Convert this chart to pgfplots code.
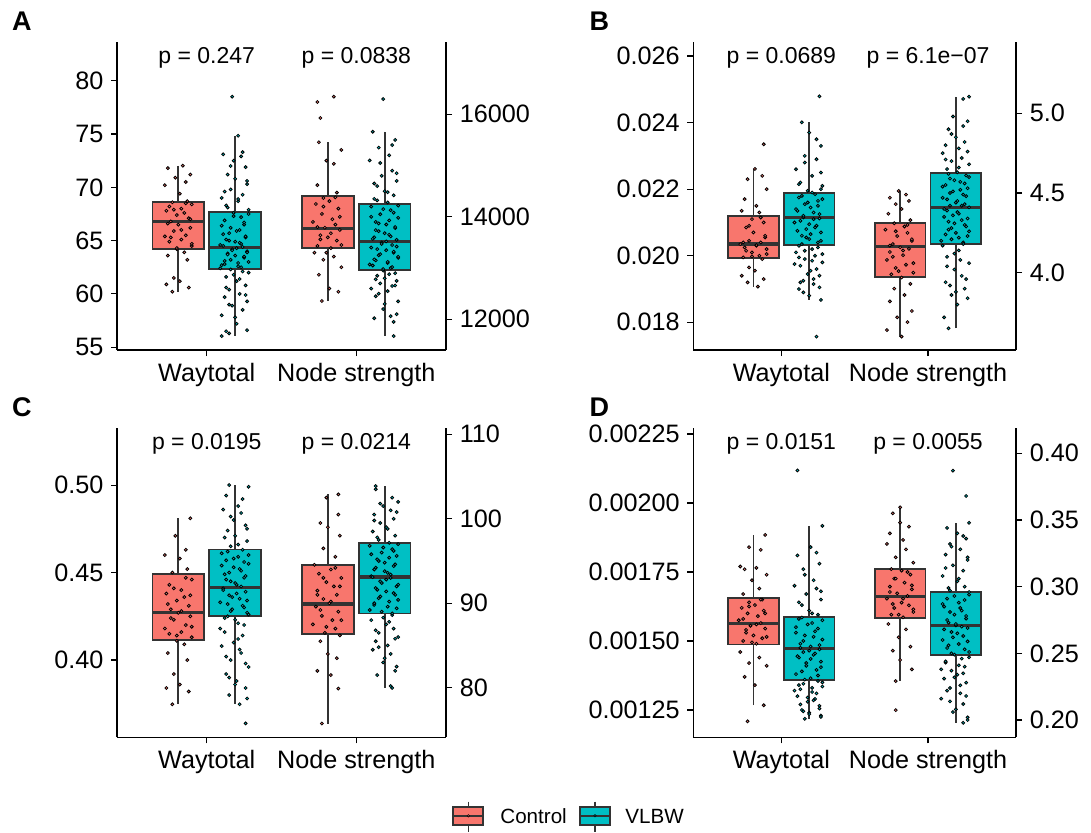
\documentclass[border=0pt]{standalone}
\usepackage{pgfplots}
\pgfplotsset{compat=1.18}
\usepgfplotslibrary{statistics}
\usepackage{pgfplotstable}
\usepackage{fontspec}
\setmainfont{Liberation Sans}
\definecolor{ctrl}{HTML}{F8766D}
\definecolor{vlbw}{HTML}{00BFC4}
\definecolor{gg}{HTML}{333333}

% jittered points: d = horizontal jitter, v = value
\pgfplotstableread[row sep=\\]{d v\\ 0.03 72.03\\ -0.07 71.8\\ 0.08 71.2\\ -0.02 70.9\\ 0.05 70.5\\ -0.09 70.2\\ 0.01 69.4\\ 0.06 68.7\\ -0.04 68.6\\ 0.09 68.4\\ -0.06 68.2\\ 0.02 68.0\\ -0.08 67.8\\ 0.04 67.6\\ -0.01 67.4\\ 0.07 67.1\\ -0.05 66.8\\ 0.00 66.5\\ 0.08 66.2\\ -0.03 65.9\\ 0.05 65.5\\ -0.09 65.4\\ 0.02 65.1\\ -0.06 64.9\\ 0.09 64.5\\ -0.01 64.2\\ 0.04 63.9\\ -0.07 63.6\\ 0.06 63.2\\ -0.03 61.5\\ 0.01 61.2\\ -0.08 60.9\\ 0.07 60.6\\ -0.04 60.21\\ 0.05 68.5\\ -0.03 67.9\\ 0.08 67.0\\ -0.07 66.6\\ 0.02 66.0\\ -0.05 65.3\\ 0.09 64.7\\ -0.01 64.3\\}\tAwc
\pgfplotstableread[row sep=\\]{d v\\ -0.02 78.5\\ 0.02 74.84\\ -0.08 73.1\\ 0.04 72.9\\ -0.01 72.5\\ 0.07 71.9\\ -0.05 71.2\\ 0.00 70.8\\ 0.08 70.3\\ -0.03 69.8\\ 0.05 69.3\\ -0.09 69.0\\ 0.02 68.7\\ -0.06 68.3\\ 0.09 67.9\\ -0.01 67.6\\ 0.04 67.2\\ -0.07 66.9\\ 0.06 66.5\\ -0.03 66.2\\ 0.01 65.9\\ -0.08 65.6\\ 0.07 65.3\\ -0.04 65.0\\ 0.03 64.8\\ -0.10 64.6\\ 0.05 64.4\\ -0.02 64.2\\ 0.08 64.0\\ -0.05 63.8\\ 0.00 63.6\\ 0.06 63.4\\ -0.07 63.1\\ 0.02 62.9\\ -0.09 62.7\\ 0.04 62.5\\ -0.03 62.3\\ 0.09 62.0\\ -0.06 61.6\\ 0.01 61.2\\ 0.07 60.8\\ -0.04 60.4\\ 0.03 60.0\\ -0.07 59.7\\ 0.08 59.3\\ -0.02 58.9\\ 0.05 58.5\\ -0.09 58.0\\ 0.01 57.2\\ -0.06 56.5\\ -0.04 56.3\\ -0.09 56.05\\ 0.05 73.3\\ -0.03 72.0\\ 0.08 70.6\\ -0.07 69.6\\ 0.02 68.9\\ -0.05 68.1\\ 0.09 67.5\\ -0.01 67.3\\ 0.06 66.7\\ -0.09 66.4\\ 0.03 66.0\\ -0.04 65.7\\ 0.07 65.4\\ -0.06 65.1\\ 0.00 64.9\\ 0.04 64.7\\ -0.08 64.5\\ 0.01 64.3\\ -0.02 64.1\\ 0.08 63.9\\ -0.05 63.7\\ 0.06 63.5\\ -0.03 63.2\\ 0.09 63.0\\ -0.07 62.8\\ 0.02 62.6\\ -0.10 62.4\\ 0.05 62.1\\ -0.01 61.8\\ 0.03 61.4\\ -0.06 60.6\\ 0.07 59.9\\ -0.04 59.0\\ 0.00 57.8\\ 0.08 56.6\\}\tAwv
\pgfplotstableread[row sep=\\]{d v\\ 0.04 16344\\ -0.07 16240\\ -0.05 15928\\ -0.06 15454\\ 0.09 15304\\ -0.01 15096\\ 0.04 15034\\ -0.07 14618\\ 0.06 14472\\ -0.03 14368\\ 0.01 14306\\ -0.08 14250\\ 0.07 14160\\ -0.04 14056\\ 0.03 13952\\ -0.10 13900\\ 0.05 13848\\ -0.02 13786\\ 0.08 13744\\ -0.05 13640\\ 0.00 13600\\ 0.06 13536\\ -0.07 13432\\ 0.02 13390\\ -0.09 13300\\ 0.04 13224\\ -0.03 13162\\ 0.09 13016\\ -0.06 12870\\ 0.01 12600\\ 0.07 12538\\ -0.04 12357\\ 0.05 14380\\ -0.03 14200\\ 0.08 14000\\ -0.07 13800\\ 0.02 13680\\ -0.05 13560\\ 0.09 13450\\ -0.01 13300\\}\tAnc
\pgfplotstableread[row sep=\\]{d v\\ -0.01 16298\\ -0.08 15660\\ 0.07 15500\\ -0.04 15350\\ 0.03 15200\\ -0.10 15100\\ 0.05 14900\\ -0.02 14800\\ 0.08 14700\\ -0.05 14600\\ 0.00 14500\\ 0.06 14420\\ -0.07 14350\\ 0.02 14280\\ -0.09 14200\\ 0.04 14130\\ -0.03 14050\\ 0.09 13980\\ -0.06 13900\\ 0.01 13850\\ 0.07 13780\\ -0.04 13720\\ 0.03 13650\\ -0.07 13600\\ 0.08 13550\\ -0.02 13500\\ 0.05 13450\\ -0.09 13400\\ 0.01 13350\\ 0.06 13300\\ -0.04 13250\\ 0.09 13200\\ -0.06 13150\\ 0.02 13100\\ -0.08 13050\\ 0.04 13000\\ -0.01 12950\\ 0.07 12900\\ -0.05 12850\\ 0.00 12800\\ 0.08 12750\\ -0.03 12700\\ 0.05 12650\\ -0.09 12600\\ 0.02 12550\\ -0.06 12450\\ 0.09 12350\\ -0.01 12200\\ 0.04 12060\\ -0.07 12020\\ 0.06 11950\\ 0.06 11674\\ 0.05 15400\\ -0.03 15050\\ 0.08 14850\\ -0.07 14650\\ 0.02 14480\\ -0.05 14320\\ 0.09 14220\\ -0.01 14150\\ 0.06 14080\\ -0.09 14000\\ 0.03 13930\\ -0.04 13870\\ 0.07 13800\\ -0.06 13740\\ 0.00 13680\\ 0.04 13620\\ -0.08 13570\\ 0.01 13520\\ -0.02 13470\\ 0.08 13420\\ -0.05 13370\\ 0.06 13320\\ -0.03 13270\\ 0.09 13220\\ -0.07 13170\\ 0.02 13120\\ -0.10 13070\\ 0.05 13020\\ -0.01 12980\\ 0.03 12880\\ -0.06 12780\\ 0.07 12660\\ -0.04 12500\\ 0.00 12300\\ 0.08 12100\\}\tAnv

\pgfplotstableread[row sep=\\]{d v\\ 0.07 0.02335\\ 0.01 0.022607\\ 0.06 0.02240\\ -0.04 0.02230\\ 0.09 0.02200\\ -0.06 0.02170\\ 0.02 0.02150\\ -0.08 0.02135\\ 0.04 0.02130\\ -0.01 0.02110\\ 0.07 0.02100\\ -0.05 0.02085\\ 0.00 0.02070\\ 0.08 0.02055\\ -0.03 0.02045\\ 0.05 0.02040\\ -0.09 0.02035\\ 0.02 0.02030\\ -0.06 0.02025\\ 0.09 0.02020\\ -0.01 0.02010\\ 0.04 0.02000\\ -0.07 0.01995\\ 0.06 0.01990\\ -0.03 0.01965\\ 0.01 0.01955\\ -0.08 0.01940\\ 0.07 0.01930\\ -0.04 0.01920\\ 0.03 0.019072\\ 0.05 0.02115\\ -0.03 0.02090\\ 0.08 0.02060\\ -0.07 0.02040\\ 0.02 0.02032\\ -0.05 0.02015\\ 0.09 0.02005\\ -0.01 0.01998\\}\tBwc
\pgfplotstableread[row sep=\\]{d v\\ 0.07 0.02479\\ -0.05 0.024009\\ 0.00 0.02370\\ 0.08 0.02330\\ -0.03 0.02300\\ 0.05 0.02290\\ -0.09 0.02260\\ 0.02 0.02240\\ -0.06 0.02220\\ 0.09 0.02210\\ -0.01 0.02195\\ 0.04 0.02185\\ -0.07 0.02175\\ 0.06 0.02165\\ -0.03 0.02155\\ 0.01 0.02145\\ -0.08 0.02135\\ 0.07 0.02125\\ -0.04 0.02115\\ 0.03 0.02110\\ -0.10 0.02100\\ 0.05 0.02090\\ -0.02 0.02080\\ 0.08 0.02070\\ -0.05 0.02060\\ 0.00 0.02050\\ 0.06 0.02040\\ -0.07 0.02030\\ 0.02 0.02020\\ -0.09 0.02010\\ 0.04 0.02000\\ -0.03 0.01990\\ 0.09 0.01980\\ -0.06 0.01970\\ 0.01 0.01955\\ 0.07 0.01940\\ -0.04 0.01925\\ 0.03 0.01915\\ -0.07 0.01900\\ 0.08 0.018673\\ 0.05 0.01757\\ 0.05 0.02350\\ -0.03 0.02280\\ 0.08 0.02250\\ -0.07 0.02215\\ 0.02 0.02190\\ -0.05 0.02180\\ 0.09 0.02170\\ -0.01 0.02160\\ 0.06 0.02150\\ -0.09 0.02140\\ 0.03 0.02130\\ -0.04 0.02120\\ 0.07 0.02112\\ -0.06 0.02105\\ 0.00 0.02095\\ 0.04 0.02085\\ -0.08 0.02075\\ 0.01 0.02065\\ -0.02 0.02055\\ 0.08 0.02045\\ -0.05 0.02035\\ 0.06 0.02025\\ -0.03 0.02015\\ 0.09 0.02005\\ -0.07 0.01995\\ 0.02 0.01985\\ -0.10 0.01975\\ 0.05 0.01960\\ -0.01 0.01945\\ 0.03 0.01930\\ -0.06 0.01920\\ 0.07 0.01905\\ -0.04 0.01890\\ 0.00 0.01880\\ 0.08 0.02200\\}\tBwv
\pgfplotstableread[row sep=\\]{d v\\ -0.01 4.513\\ 0.04 4.49\\ -0.07 4.47\\ 0.06 4.45\\ -0.03 4.43\\ 0.01 4.40\\ -0.08 4.37\\ 0.07 4.33\\ -0.04 4.31\\ 0.03 4.29\\ -0.10 4.27\\ 0.05 4.25\\ -0.02 4.23\\ 0.08 4.20\\ -0.05 4.18\\ 0.00 4.16\\ 0.06 4.15\\ -0.07 4.13\\ 0.02 4.11\\ -0.09 4.08\\ 0.04 4.05\\ -0.03 4.03\\ 0.09 4.00\\ -0.06 3.99\\ 0.01 3.97\\ 0.07 3.93\\ -0.04 3.90\\ 0.03 3.86\\ -0.07 3.82\\ 0.08 3.76\\ -0.02 3.72\\ 0.05 3.69\\ -0.09 3.64\\ 0.01 3.599\\ 0.05 4.30\\ -0.03 4.26\\ 0.08 4.21\\ -0.07 4.17\\ 0.02 4.14\\ -0.05 4.10\\ 0.09 4.06\\ -0.01 4.01\\}\tBnc
\pgfplotstableread[row sep=\\]{d v\\ 0.09 5.104\\ 0.05 5.09\\ -0.02 4.98\\ 0.08 4.95\\ -0.05 4.90\\ 0.00 4.85\\ 0.06 4.82\\ -0.07 4.80\\ 0.02 4.78\\ -0.09 4.75\\ 0.04 4.72\\ -0.03 4.70\\ 0.09 4.68\\ -0.06 4.65\\ 0.01 4.63\\ 0.07 4.61\\ -0.04 4.59\\ 0.03 4.57\\ -0.07 4.55\\ 0.08 4.53\\ -0.02 4.51\\ 0.05 4.49\\ -0.09 4.47\\ 0.01 4.45\\ 0.06 4.43\\ -0.04 4.42\\ 0.09 4.41\\ -0.06 4.39\\ 0.02 4.37\\ -0.08 4.35\\ 0.04 4.33\\ -0.01 4.31\\ 0.07 4.29\\ -0.05 4.27\\ 0.00 4.25\\ 0.08 4.23\\ -0.03 4.21\\ 0.05 4.19\\ -0.09 4.17\\ 0.02 4.14\\ -0.06 4.10\\ 0.09 4.06\\ -0.01 4.02\\ 0.04 3.98\\ -0.07 3.94\\ 0.06 3.90\\ -0.03 3.86\\ 0.01 3.80\\ -0.08 3.72\\ -0.05 3.651\\ 0.05 4.92\\ -0.03 4.87\\ 0.08 4.76\\ -0.07 4.71\\ 0.02 4.66\\ -0.05 4.62\\ 0.09 4.60\\ -0.01 4.58\\ 0.06 4.56\\ -0.09 4.54\\ 0.03 4.52\\ -0.04 4.50\\ 0.07 4.48\\ -0.06 4.46\\ 0.00 4.44\\ 0.04 4.42\\ -0.08 4.40\\ 0.01 4.38\\ -0.02 4.36\\ 0.08 4.34\\ -0.05 4.32\\ 0.06 4.30\\ -0.03 4.28\\ 0.09 4.26\\ -0.07 4.24\\ 0.02 4.22\\ -0.10 4.20\\ 0.05 4.18\\ -0.01 4.12\\ 0.03 4.08\\ -0.06 4.04\\ 0.07 3.96\\ -0.04 3.92\\ 0.00 3.88\\ 0.08 3.84\\}\tBnv

\pgfplotstableread[row sep=\\]{d v\\ 0.08 0.481\\ -0.02 0.471\\ 0.05 0.463\\ -0.09 0.460\\ 0.01 0.458\\ 0.06 0.452\\ -0.04 0.450\\ 0.09 0.446\\ -0.06 0.443\\ 0.02 0.440\\ -0.08 0.438\\ 0.04 0.436\\ -0.01 0.434\\ 0.07 0.431\\ -0.05 0.429\\ 0.00 0.427\\ 0.08 0.425\\ -0.03 0.423\\ 0.05 0.420\\ -0.09 0.418\\ 0.02 0.416\\ -0.06 0.415\\ 0.09 0.413\\ -0.01 0.411\\ 0.04 0.409\\ -0.07 0.404\\ 0.06 0.400\\ -0.03 0.392\\ 0.01 0.386\\ -0.08 0.384\\ 0.07 0.382\\ -0.04 0.3747\\ 0.05 0.447\\ -0.03 0.441\\ 0.08 0.437\\ -0.07 0.432\\ 0.02 0.428\\ -0.05 0.424\\ 0.09 0.419\\ -0.01 0.414\\}\tCwc
\pgfplotstableread[row sep=\\]{d v\\ -0.04 0.500\\ 0.09 0.499\\ -0.06 0.494\\ 0.02 0.488\\ -0.08 0.486\\ 0.04 0.484\\ -0.01 0.480\\ 0.07 0.477\\ -0.05 0.474\\ 0.00 0.471\\ 0.08 0.468\\ -0.03 0.465\\ 0.05 0.463\\ -0.09 0.461\\ 0.02 0.459\\ -0.06 0.457\\ 0.09 0.455\\ -0.01 0.453\\ 0.04 0.451\\ -0.07 0.449\\ 0.06 0.447\\ -0.03 0.445\\ 0.01 0.443\\ -0.08 0.441\\ 0.07 0.439\\ -0.04 0.437\\ 0.03 0.435\\ -0.10 0.433\\ 0.05 0.431\\ -0.02 0.429\\ 0.08 0.427\\ -0.05 0.425\\ 0.00 0.423\\ 0.06 0.420\\ -0.07 0.416\\ 0.02 0.412\\ -0.09 0.408\\ 0.04 0.404\\ -0.03 0.400\\ 0.09 0.396\\ -0.06 0.392\\ 0.01 0.388\\ 0.07 0.384\\ -0.04 0.380\\ 0.03 0.3747\\ 0.07 0.3638\\ 0.05 0.492\\ -0.03 0.482\\ 0.08 0.475\\ -0.07 0.470\\ 0.02 0.466\\ -0.05 0.462\\ 0.09 0.460\\ -0.01 0.458\\ 0.06 0.456\\ -0.09 0.454\\ 0.03 0.452\\ -0.04 0.450\\ 0.07 0.448\\ -0.06 0.446\\ 0.00 0.444\\ 0.04 0.442\\ -0.08 0.440\\ 0.01 0.438\\ -0.02 0.436\\ 0.08 0.434\\ -0.05 0.432\\ 0.06 0.430\\ -0.03 0.428\\ 0.09 0.426\\ -0.07 0.424\\ 0.02 0.421\\ -0.10 0.418\\ 0.05 0.414\\ -0.01 0.410\\ 0.03 0.406\\ -0.06 0.402\\ 0.07 0.398\\ -0.04 0.390\\ 0.00 0.386\\ 0.08 0.378\\}\tCwv
\pgfplotstableread[row sep=\\]{d v\\ 0.07 102.89\\ -0.01 102.5\\ 0.07 100.5\\ -0.05 99.5\\ 0.00 99.0\\ 0.08 98.0\\ -0.03 96.5\\ 0.05 95.5\\ -0.09 94.55\\ 0.02 94.0\\ -0.06 93.5\\ 0.09 93.0\\ -0.01 92.5\\ 0.04 92.0\\ -0.07 91.5\\ 0.06 91.0\\ -0.03 90.5\\ 0.01 90.0\\ -0.08 89.6\\ 0.07 89.0\\ -0.04 88.5\\ 0.03 88.0\\ -0.10 87.5\\ 0.05 87.0\\ -0.02 86.5\\ 0.08 86.2\\ -0.05 85.5\\ 0.00 84.0\\ 0.06 83.5\\ -0.07 82.0\\ 0.02 81.5\\ 0.07 79.9\\ -0.04 75.76\\ 0.05 94.2\\ -0.03 93.0\\ 0.08 92.0\\ -0.07 91.0\\ 0.02 90.2\\ -0.05 89.2\\ 0.09 88.0\\ -0.01 87.2\\}\tCnc
\pgfplotstableread[row sep=\\]{d v\\ -0.06 103.87\\ -0.06 103.5\\ 0.09 102.0\\ -0.01 101.5\\ 0.04 101.0\\ -0.07 100.5\\ 0.06 100.0\\ -0.03 99.5\\ 0.01 99.0\\ -0.08 98.5\\ 0.07 98.0\\ -0.04 97.5\\ 0.03 97.16\\ -0.10 96.8\\ 0.05 96.4\\ -0.02 96.0\\ 0.08 95.6\\ -0.05 95.2\\ 0.00 94.8\\ 0.06 94.4\\ -0.07 94.0\\ 0.02 93.6\\ -0.09 93.2\\ 0.04 93.0\\ -0.03 92.6\\ 0.09 92.2\\ -0.06 91.8\\ 0.01 91.4\\ 0.07 91.0\\ -0.04 90.6\\ 0.03 90.2\\ -0.07 89.8\\ 0.08 89.4\\ -0.02 89.0\\ 0.05 88.6\\ -0.09 88.0\\ 0.01 87.5\\ 0.06 87.0\\ -0.04 86.5\\ 0.09 86.0\\ -0.06 85.5\\ 0.02 85.0\\ -0.08 84.5\\ 0.04 84.0\\ -0.01 83.0\\ 0.07 82.0\\ -0.05 81.5\\ 0.04 80.2\\ 0.05 79.98\\ 0.05 102.5\\ -0.03 101.8\\ 0.08 100.8\\ -0.07 99.8\\ 0.02 98.8\\ -0.05 97.8\\ 0.09 97.0\\ -0.01 96.6\\ 0.06 96.2\\ -0.09 95.8\\ 0.03 95.4\\ -0.04 95.0\\ 0.07 94.6\\ -0.06 94.2\\ 0.00 93.8\\ 0.04 93.4\\ -0.08 93.1\\ 0.01 92.8\\ -0.02 92.4\\ 0.08 92.0\\ -0.05 91.6\\ 0.06 91.2\\ -0.03 90.8\\ 0.09 90.4\\ -0.07 90.0\\ 0.02 89.6\\ -0.10 89.2\\ 0.05 88.8\\ -0.01 88.3\\ 0.03 87.8\\ -0.06 86.8\\ 0.07 85.8\\ -0.04 84.8\\ 0.00 83.5\\ 0.08 82.5\\}\tCnv

\pgfplotstableread[row sep=\\]{d v\\ 0.08 0.001884\\ -0.03 0.001840\\ 0.05 0.001830\\ -0.09 0.001770\\ 0.02 0.001765\\ -0.06 0.001760\\ 0.09 0.001740\\ -0.01 0.001720\\ 0.04 0.001690\\ -0.07 0.001670\\ 0.06 0.001650\\ -0.03 0.001640\\ 0.01 0.001630\\ -0.08 0.001620\\ 0.07 0.001610\\ -0.04 0.001600\\ 0.03 0.001590\\ -0.10 0.001575\\ 0.05 0.001565\\ -0.02 0.001555\\ 0.08 0.001545\\ -0.05 0.001530\\ 0.00 0.001520\\ 0.06 0.001510\\ -0.07 0.001500\\ 0.02 0.001490\\ -0.09 0.001460\\ 0.04 0.001440\\ -0.03 0.001420\\ 0.09 0.001410\\ -0.06 0.001370\\ 0.01 0.001340\\ 0.07 0.001267\\ -0.04 0.001209\\ 0.05 0.001650\\ -0.03 0.001625\\ 0.08 0.001600\\ -0.07 0.001580\\ 0.02 0.001560\\ -0.05 0.001540\\ 0.09 0.001515\\ -0.01 0.001495\\}\tDwc
\pgfplotstableread[row sep=\\]{d v\\ -0.08 0.002118\\ 0.09 0.001917\\ 0.01 0.001840\\ -0.08 0.001810\\ 0.07 0.001780\\ -0.04 0.001760\\ 0.03 0.001720\\ -0.10 0.001700\\ 0.05 0.001690\\ -0.02 0.001670\\ 0.08 0.001650\\ -0.05 0.001630\\ 0.00 0.001610\\ 0.06 0.001595\\ -0.07 0.001580\\ 0.02 0.001565\\ -0.09 0.001550\\ 0.04 0.001535\\ -0.03 0.001520\\ 0.09 0.001505\\ -0.06 0.001490\\ 0.01 0.001480\\ 0.07 0.001470\\ -0.04 0.001460\\ 0.03 0.001450\\ -0.07 0.001440\\ 0.08 0.001425\\ -0.02 0.001410\\ 0.05 0.001395\\ -0.09 0.001380\\ 0.01 0.001365\\ 0.06 0.001355\\ -0.04 0.001345\\ 0.09 0.001335\\ -0.06 0.001325\\ 0.02 0.001315\\ -0.08 0.001300\\ 0.04 0.001290\\ -0.01 0.001280\\ 0.07 0.001265\\ -0.05 0.001250\\ 0.00 0.001240\\ 0.08 0.001230\\ -0.03 0.001218\\ 0.05 0.001820\\ -0.03 0.001740\\ 0.08 0.001680\\ -0.07 0.001640\\ 0.02 0.001600\\ -0.05 0.001585\\ 0.09 0.001575\\ -0.01 0.001560\\ 0.06 0.001545\\ -0.09 0.001530\\ 0.03 0.001515\\ -0.04 0.001500\\ 0.07 0.001485\\ -0.06 0.001475\\ 0.00 0.001465\\ 0.04 0.001455\\ -0.08 0.001445\\ 0.01 0.001435\\ -0.02 0.001420\\ 0.08 0.001405\\ -0.05 0.001390\\ 0.06 0.001375\\ -0.03 0.001360\\ 0.09 0.001350\\ -0.07 0.001340\\ 0.02 0.001330\\ -0.10 0.001320\\ 0.05 0.001310\\ -0.01 0.001295\\ 0.03 0.001285\\ -0.06 0.001270\\ 0.07 0.001255\\ -0.04 0.001245\\ 0.00 0.001235\\ 0.08 0.001225\\}\tDwv
\pgfplotstableread[row sep=\\]{d v\\ 0.00 0.3595\\ -0.05 0.355\\ 0.00 0.348\\ 0.06 0.345\\ -0.07 0.340\\ 0.02 0.335\\ -0.09 0.332\\ 0.04 0.328\\ -0.03 0.322\\ 0.09 0.318\\ -0.06 0.3132\\ 0.01 0.312\\ 0.07 0.309\\ -0.04 0.306\\ 0.03 0.303\\ -0.07 0.300\\ 0.08 0.298\\ -0.02 0.295\\ 0.05 0.293\\ -0.09 0.291\\ 0.01 0.288\\ 0.06 0.286\\ -0.04 0.284\\ 0.09 0.281\\ -0.06 0.279\\ 0.02 0.277\\ -0.08 0.272\\ 0.04 0.268\\ -0.01 0.262\\ 0.07 0.255\\ -0.05 0.252\\ 0.00 0.245\\ 0.08 0.238\\ -0.03 0.2292\\ -0.03 0.2074\\ 0.05 0.311\\ -0.03 0.306\\ 0.08 0.301\\ -0.07 0.296\\ 0.02 0.291\\ -0.05 0.287\\ 0.09 0.283\\ -0.01 0.279\\}\tDnc
\pgfplotstableread[row sep=\\]{d v\\ -0.02 0.387\\ 0.07 0.368\\ 0.09 0.3479\\ -0.06 0.344\\ 0.01 0.340\\ 0.07 0.336\\ -0.04 0.332\\ 0.03 0.328\\ -0.07 0.324\\ 0.08 0.320\\ -0.02 0.316\\ 0.05 0.312\\ -0.09 0.308\\ 0.01 0.304\\ 0.06 0.300\\ -0.04 0.297\\ 0.09 0.294\\ -0.06 0.291\\ 0.02 0.288\\ -0.08 0.285\\ 0.04 0.282\\ -0.01 0.279\\ 0.07 0.276\\ -0.05 0.273\\ 0.00 0.271\\ 0.08 0.269\\ -0.03 0.266\\ 0.05 0.263\\ -0.09 0.260\\ 0.02 0.257\\ -0.06 0.254\\ 0.09 0.251\\ -0.01 0.249\\ 0.04 0.246\\ -0.07 0.243\\ 0.06 0.240\\ -0.03 0.237\\ 0.01 0.234\\ -0.08 0.231\\ 0.07 0.228\\ -0.04 0.224\\ 0.03 0.220\\ -0.10 0.216\\ 0.05 0.212\\ -0.02 0.206\\ 0.08 0.200\\ 0.05 0.1979\\ 0.05 0.338\\ -0.03 0.330\\ 0.08 0.322\\ -0.07 0.314\\ 0.02 0.306\\ -0.05 0.299\\ 0.09 0.296\\ -0.01 0.293\\ 0.06 0.290\\ -0.09 0.287\\ 0.03 0.284\\ -0.04 0.281\\ 0.07 0.278\\ -0.06 0.275\\ 0.00 0.272\\ 0.04 0.270\\ -0.08 0.268\\ 0.01 0.265\\ -0.02 0.262\\ 0.08 0.259\\ -0.05 0.256\\ 0.06 0.253\\ -0.03 0.250\\ 0.09 0.247\\ -0.07 0.244\\ 0.02 0.241\\ -0.10 0.238\\ 0.05 0.235\\ -0.01 0.232\\ 0.03 0.226\\ -0.06 0.222\\ 0.07 0.218\\ -0.04 0.214\\ 0.00 0.208\\ 0.08 0.202\\}\tDnv

\pgfplotsset{
  panel/.style={scale only axis, xmin=0.4, xmax=2.6, clip=false,
    tick align=outside, major tick length=3pt,
    every tick/.style={black, line width=0.55pt},
    axis line style={black, line width=0.65pt},
    tick label style={font=\fontsize{12.6}{14}\selectfont, inner sep=0pt}},
  leftax/.style={panel, axis x line*=bottom, axis y line*=left,
    xtick={1,2}, xticklabels={Waytotal,Node strength},
    yticklabel style={xshift=-3.6pt}, xticklabel style={yshift=-3.5pt}},
  rightax/.style={panel, axis y line*=right, axis x line=none,
    yticklabel style={xshift=3.7pt}},
  bp/.style={boxplot prepared={#1, draw direction=y, box extend=0.345, whisker extend=0,
      draw/median/.code={\draw[gg, line width=1.7pt]
        (boxplot box cs:\pgfplotsboxplotvalue{median},0) --
        (boxplot box cs:\pgfplotsboxplotvalue{median},1);}},
    draw=gg, line width=0.9pt, solid},
  pts/.style={only marks, mark=*, mark size=0.75pt,
    mark options={draw=black, fill=#1, line width=0.4pt}},
}
\tikzset{pval/.style={anchor=base, inner sep=0pt, font=\fontsize{11.5}{13}\selectfont},
  letter/.style={anchor=base west, inner sep=0pt, font=\fontsize{13.5}{16}\selectfont\bfseries}}

\begin{document}
\begin{tikzpicture}
\useasboundingbox (0pt,0pt) rectangle (545.5pt,-416pt);

% ---------------- A ----------------
\begin{axis}[leftax, at={(58.5pt,-175pt)}, anchor=south west, width=164.5pt, height=154.1pt,
  ymin=54.74, ymax=83.65, ytick={55,60,65,70,75,80}, yticklabels={55,60,65,70,75,80}]
\addplot[bp={draw position=0.81, lower whisker=60.21, lower quartile=64.24, median=66.77, upper quartile=68.59, upper whisker=72.03}, fill=ctrl] coordinates {};
\addplot[bp={draw position=1.19, lower whisker=56.05, lower quartile=62.31, median=64.33, upper quartile=67.71, upper whisker=74.84}, fill=vlbw] coordinates {};
\addplot[pts=ctrl] table[x expr=\thisrow{d}+0.81, y=v] {\tAwc};
\addplot[pts=vlbw] table[x expr=\thisrow{d}+1.19, y=v] {\tAwv};
\node[pval] at (axis description cs:0.2727,0.93) {p = 0.247};
\node[pval] at (axis description cs:0.7273,0.93) {p = 0.0838};
\end{axis}
% node strength in thousands on this axis
\begin{axis}[rightax, at={(58.5pt,-175pt)}, anchor=south west, width=164.5pt, height=154.1pt,
  ymin=11.401, ymax=17.4146, ytick={12,14,16}, yticklabels={12000,14000,16000}]
\addplot[bp={draw position=1.81, lower whisker=12.357, lower quartile=13.397, median=13.768, upper quartile=14.406, upper whisker=15.454}, fill=ctrl] coordinates {};
\addplot[bp={draw position=2.19, lower whisker=11.674, lower quartile=12.962, median=13.522, upper quartile=14.244, upper whisker=15.660}, fill=vlbw] coordinates {};
\addplot[pts=ctrl] table[x expr=\thisrow{d}+1.81, y expr=\thisrow{v}/1000] {\tAnc};
\addplot[pts=vlbw] table[x expr=\thisrow{d}+2.19, y expr=\thisrow{v}/1000] {\tAnv};
\end{axis}

% ---------------- B ----------------
\begin{axis}[leftax, at={(346.65pt,-175pt)}, anchor=south west, width=161.35pt, height=154.1pt,
  ymin=17.168, ymax=26.427, ytick={18,20,22,24,26}, yticklabels={0.018,0.020,0.022,0.024,0.026}]
\addplot[bp={draw position=0.81, lower whisker=19.072, lower quartile=19.925, median=20.354, upper quartile=21.195, upper whisker=22.607}, fill=ctrl] coordinates {};
\addplot[bp={draw position=1.19, lower whisker=18.673, lower quartile=20.315, median=21.144, upper quartile=21.877, upper whisker=24.009}, fill=vlbw] coordinates {};
\addplot[pts=ctrl] table[x expr=\thisrow{d}+0.81, y expr=\thisrow{v}*1000] {\tBwc};
\addplot[pts=vlbw] table[x expr=\thisrow{d}+1.19, y expr=\thisrow{v}*1000] {\tBwv};
\node[pval] at (axis description cs:0.2727,0.93) {p = 0.0689};
\node[pval] at (axis description cs:0.7273,0.93) {p = 6.1e−07};
\end{axis}
\begin{axis}[rightax, at={(346.65pt,-175pt)}, anchor=south west, width=161.35pt, height=154.1pt,
  ymin=3.515, ymax=5.4486, ytick={4.0,4.5,5.0}, yticklabels={4.0,4.5,5.0}]
\addplot[bp={draw position=1.81, lower whisker=3.599, lower quartile=3.971, median=4.163, upper quartile=4.314, upper whisker=4.513}, fill=ctrl] coordinates {};
\addplot[bp={draw position=2.19, lower whisker=3.651, lower quartile=4.178, median=4.410, upper quartile=4.624, upper whisker=5.104}, fill=vlbw] coordinates {};
\addplot[pts=ctrl] table[x expr=\thisrow{d}+1.81, y=v] {\tBnc};
\addplot[pts=vlbw] table[x expr=\thisrow{d}+2.19, y=v] {\tBnv};
\end{axis}

% ---------------- C ----------------
\begin{axis}[leftax, at={(58.5pt,-368.65pt)}, anchor=south west, width=164.5pt, height=154.65pt,
  ymin=0.35583, ymax=0.5326, ytick={0.40,0.45,0.50}, yticklabels={0.40,0.45,0.50}]
\addplot[bp={draw position=0.81, lower whisker=0.3747, lower quartile=0.4116, median=0.4270, upper quartile=0.4493, upper whisker=0.4810}, fill=ctrl] coordinates {};
\addplot[bp={draw position=1.19, lower whisker=0.3747, lower quartile=0.4250, median=0.4415, upper quartile=0.4632, upper whisker=0.5000}, fill=vlbw] coordinates {};
\addplot[pts=ctrl] table[x expr=\thisrow{d}+0.81, y=v] {\tCwc};
\addplot[pts=vlbw] table[x expr=\thisrow{d}+1.19, y=v] {\tCwv};
\node[pval] at (axis description cs:0.2727,0.929) {p = 0.0195};
\node[pval] at (axis description cs:0.7273,0.929) {p = 0.0214};
\end{axis}
\begin{axis}[rightax, at={(58.5pt,-368.65pt)}, anchor=south west, width=164.5pt, height=154.65pt,
  ymin=74.13, ymax=110.746, ytick={80,90,100,110}, yticklabels={80,90,100,110}]
\addplot[bp={draw position=1.81, lower whisker=75.76, lower quartile=86.34, median=89.9, upper quartile=94.55, upper whisker=102.89}, fill=ctrl] coordinates {};
\addplot[bp={draw position=2.19, lower whisker=79.98, lower quartile=88.79, median=93.09, upper quartile=97.16, upper whisker=103.87}, fill=vlbw] coordinates {};
\addplot[pts=ctrl] table[x expr=\thisrow{d}+1.81, y=v] {\tCnc};
\addplot[pts=vlbw] table[x expr=\thisrow{d}+2.19, y=v] {\tCnv};
\end{axis}

% ---------------- D ----------------
% waytotal in thousandths on this axis
\begin{axis}[leftax, at={(346.65pt,-368.65pt)}, anchor=south west, width=161.35pt, height=154.65pt,
  ymin=1.1509, ymax=2.2716, ytick={1.25,1.5,1.75,2,2.25}, yticklabels={0.00125,0.00150,0.00175,0.00200,0.00225}]
\addplot[bp={draw position=0.81, lower whisker=1.267, lower quartile=1.487, median=1.564, upper quartile=1.656, upper whisker=1.884}, fill=ctrl] coordinates {};
\addplot[bp={draw position=1.19, lower whisker=1.218, lower quartile=1.358, median=1.473, upper quartile=1.586, upper whisker=1.917}, fill=vlbw] coordinates {};
\addplot[pts=ctrl] table[x expr=\thisrow{d}+0.81, y expr=\thisrow{v}*1000] {\tDwc};
\addplot[pts=vlbw] table[x expr=\thisrow{d}+1.19, y expr=\thisrow{v}*1000] {\tDwv};
\node[pval] at (axis description cs:0.2727,0.929) {p = 0.0151};
\node[pval] at (axis description cs:0.7273,0.929) {p = 0.0055};
\end{axis}
\begin{axis}[rightax, at={(346.65pt,-368.65pt)}, anchor=south west, width=161.35pt, height=154.65pt,
  ymin=0.18702, ymax=0.41897, ytick={0.20,0.25,0.30,0.35,0.40}, yticklabels={0.20,0.25,0.30,0.35,0.40}]
\addplot[bp={draw position=1.81, lower whisker=0.2292, lower quartile=0.2767, median=0.2924, upper quartile=0.3132, upper whisker=0.3595}, fill=ctrl] coordinates {};
\addplot[bp={draw position=2.19, lower whisker=0.1979, lower quartile=0.2487, median=0.2710, upper quartile=0.2957, upper whisker=0.3479}, fill=vlbw] coordinates {};
\addplot[pts=ctrl] table[x expr=\thisrow{d}+1.81, y=v] {\tDnc};
\addplot[pts=vlbw] table[x expr=\thisrow{d}+2.19, y=v] {\tDnv};
\end{axis}

% panel letters
\node[letter] at (5.85pt,-15pt) {A};
\node[letter] at (294.6pt,-15pt) {B};
\node[letter] at (5.85pt,-208.3pt) {C};
\node[letter] at (294.6pt,-208.3pt) {D};

% legend
\foreach \cx/\col in {234.15/ctrl, 297.5/vlbw} {
  \draw[gg, line width=0.7pt] (\cx pt,-400.85pt) -- (\cx pt,-415.85pt);
  \filldraw[fill=\col, draw=gg, line width=0.9pt] (\cx pt-7.5pt,-403.35pt) rectangle (\cx pt+7.5pt,-412.5pt);
  \draw[gg, line width=0.7pt] (\cx pt-7.5pt,-407.9pt) -- (\cx pt+7.5pt,-407.9pt);
  \filldraw[fill=\col, draw=black, line width=0.3pt] (\cx pt,-407.9pt) circle (0.6pt);
}
\node[anchor=west, inner sep=0pt, font=\fontsize{10.3}{12}\selectfont] at (250pt,-408.3pt) {Control};
\node[anchor=west, inner sep=0pt, font=\fontsize{10.3}{12}\selectfont] at (312.5pt,-408.3pt) {VLBW};
\end{tikzpicture}
\end{document}
